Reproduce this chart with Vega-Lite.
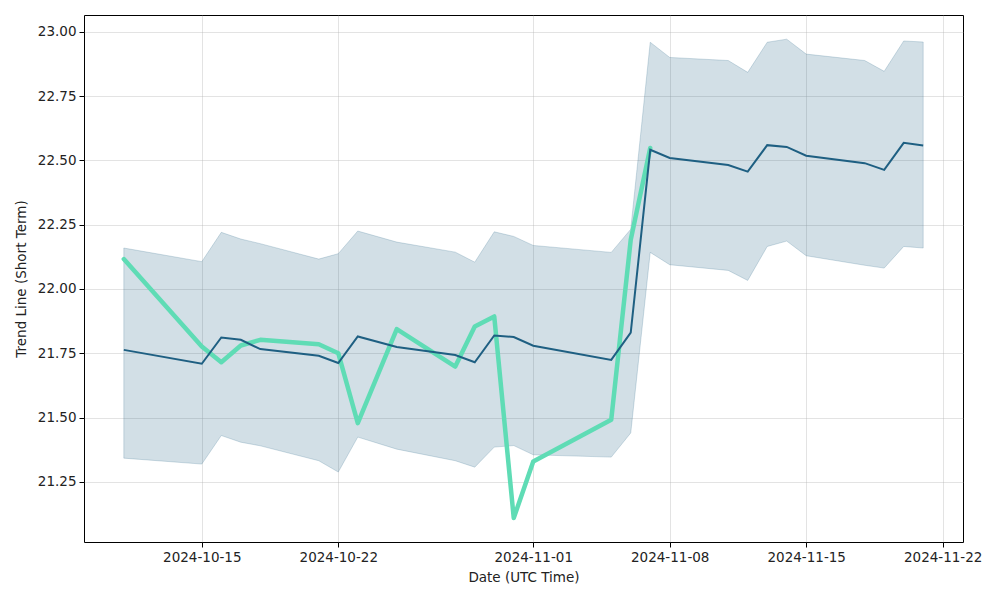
{
  "$schema": "https://vega.github.io/schema/vega-lite/v6.json",
  "autosize": "none",
  "width": 879,
  "height": 527,
  "padding": {"left": 84, "top": 15, "right": 37, "bottom": 58},
  "background": "white",
  "config": {
    "font": "DejaVu Sans",
    "view": {"stroke": "black", "strokeWidth": 1},
    "axis": {
      "labelFont": "DejaVu Sans",
      "labelFontSize": 13.5,
      "labelColor": "#222222",
      "titleFont": "DejaVu Sans",
      "titleFontSize": 13.5,
      "titleFontWeight": "normal",
      "titleColor": "#222222",
      "domain": false,
      "tickColor": "black",
      "tickSize": 5,
      "labelPadding": 3,
      "gridColor": "#b0b0b0",
      "gridOpacity": 0.35,
      "gridWidth": 1
    }
  },
  "data": {
    "values": [
      {"date": "2024-10-11", "center": 21.763, "upper": 22.159, "lower": 21.342, "trend": 22.116},
      {"date": "2024-10-15", "center": 21.709, "upper": 22.106, "lower": 21.319, "trend": 21.776},
      {"date": "2024-10-16", "center": 21.811, "upper": 22.220, "lower": 21.430, "trend": 21.715},
      {"date": "2024-10-17", "center": 21.802, "upper": 22.194, "lower": 21.404, "trend": 21.780},
      {"date": "2024-10-18", "center": 21.766, "upper": 22.176, "lower": 21.390, "trend": 21.802},
      {"date": "2024-10-21", "center": 21.740, "upper": 22.116, "lower": 21.332, "trend": 21.785},
      {"date": "2024-10-22", "center": 21.712, "upper": 22.137, "lower": 21.288, "trend": 21.750},
      {"date": "2024-10-23", "center": 21.815, "upper": 22.225, "lower": 21.424, "trend": 21.478},
      {"date": "2024-10-25", "center": 21.774, "upper": 22.182, "lower": 21.377, "trend": 21.844},
      {"date": "2024-10-28", "center": 21.743, "upper": 22.143, "lower": 21.332, "trend": 21.698},
      {"date": "2024-10-29", "center": 21.715, "upper": 22.104, "lower": 21.307, "trend": 21.854},
      {"date": "2024-10-30", "center": 21.819, "upper": 22.222, "lower": 21.385, "trend": 21.893},
      {"date": "2024-10-31", "center": 21.813, "upper": 22.204, "lower": 21.391, "trend": 21.109},
      {"date": "2024-11-01", "center": 21.779, "upper": 22.169, "lower": 21.355, "trend": 21.329},
      {"date": "2024-11-05", "center": 21.724, "upper": 22.142, "lower": 21.346, "trend": 21.491},
      {"date": "2024-11-06", "center": 21.830, "upper": 22.232, "lower": 21.440, "trend": 22.191},
      {"date": "2024-11-07", "center": 22.541, "upper": 22.959, "lower": 22.142, "trend": 22.548},
      {"date": "2024-11-08", "center": 22.509, "upper": 22.900, "lower": 22.094, "trend": null},
      {"date": "2024-11-11", "center": 22.482, "upper": 22.888, "lower": 22.072, "trend": null},
      {"date": "2024-11-12", "center": 22.456, "upper": 22.842, "lower": 22.033, "trend": null},
      {"date": "2024-11-13", "center": 22.559, "upper": 22.959, "lower": 22.165, "trend": null},
      {"date": "2024-11-14", "center": 22.552, "upper": 22.971, "lower": 22.186, "trend": null},
      {"date": "2024-11-15", "center": 22.518, "upper": 22.913, "lower": 22.129, "trend": null},
      {"date": "2024-11-18", "center": 22.489, "upper": 22.888, "lower": 22.092, "trend": null},
      {"date": "2024-11-19", "center": 22.463, "upper": 22.846, "lower": 22.081, "trend": null},
      {"date": "2024-11-20", "center": 22.568, "upper": 22.964, "lower": 22.165, "trend": null},
      {"date": "2024-11-21", "center": 22.558, "upper": 22.960, "lower": 22.159, "trend": null}
    ]
  },
  "encoding": {
    "x": {
      "field": "date",
      "type": "temporal",
      "title": "Date (UTC Time)",
      "scale": {
        "type": "utc",
        "domain": [
          {"year": 2024, "month": 10, "date": 8, "hours": 23, "utc": true},
          {"year": 2024, "month": 11, "date": 23, "hours": 1, "utc": true}
        ],
        "nice": false
      },
      "axis": {
        "values": [
          {"year": 2024, "month": 10, "date": 15, "utc": true},
          {"year": 2024, "month": 10, "date": 22, "utc": true},
          {"year": 2024, "month": 11, "date": 1, "utc": true},
          {"year": 2024, "month": 11, "date": 8, "utc": true},
          {"year": 2024, "month": 11, "date": 15, "utc": true},
          {"year": 2024, "month": 11, "date": 22, "utc": true}
        ],
        "format": "%Y-%m-%d",
        "labelAngle": 0,
        "labelFlush": false,
        "titlePadding": 7
      }
    }
  },
  "layer": [
    {
      "mark": {"type": "area", "color": "#1e5f82", "fillOpacity": 0.2, "stroke": "#1e5f82", "strokeOpacity": 0.2, "strokeWidth": 1},
      "encoding": {
        "y": {
          "field": "upper",
          "type": "quantitative",
          "title": "Trend Line (Short Term)",
          "scale": {"domain": [21.016, 23.065], "nice": false, "zero": false},
          "axis": {
            "values": [21.25, 21.5, 21.75, 22.0, 22.25, 22.5, 22.75, 23.0],
            "format": ".2f",
            "titlePadding": 9
          }
        },
        "y2": {"field": "lower"}
      }
    },
    {
      "mark": {"type": "line", "color": "#5fdcb5", "strokeWidth": 4.5, "strokeCap": "round", "strokeJoin": "round"},
      "encoding": {
        "y": {"field": "trend", "type": "quantitative"}
      }
    },
    {
      "mark": {"type": "line", "color": "#1e5f82", "strokeWidth": 2},
      "encoding": {
        "y": {"field": "center", "type": "quantitative"}
      }
    }
  ]
}
